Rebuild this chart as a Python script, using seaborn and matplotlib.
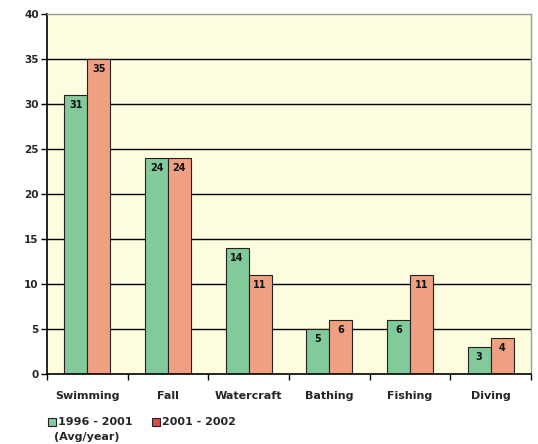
import seaborn as sns
import pandas as pd
import matplotlib.pyplot as plt
from matplotlib.patches import Rectangle

categories = ["Swimming", "Fall", "Watercraft", "Bathing", "Fishing", "Diving"]
series_names = ["1996 - 2001", "2001 - 2002"]
avg_1996_2001 = [31, 24, 14, 5, 6, 3]
val_2001_2002 = [35, 24, 11, 6, 11, 4]
y_ticks = [0, 5, 10, 15, 20, 25, 30, 35, 40]

bar_colors = ["#82ca9c", "#f0a082"]
legend_colors = ["#82ca9c", "#e04848"]

df = pd.DataFrame({
    "category": categories * 2,
    "series": [series_names[0]] * 6 + [series_names[1]] * 6,
    "value": avg_1996_2001 + val_2001_2002,
})

sns.set_style("white")
plt.rcParams['font.family'] = ['DejaVu Sans']

W, H = 538, 444
fig = plt.figure(figsize=(5.38, 4.44), dpi=100)
ax = fig.add_axes([47 / W, 1 - 374 / H, 484 / W, 360 / H])
ax.set_facecolor("#fefcdf")

sns.barplot(data=df, x="category", y="value", hue="series", order=categories,
            hue_order=series_names, palette=bar_colors, width=0.57,
            edgecolor="#222222", linewidth=0.8, saturation=1, legend=False, ax=ax)

# 柱顶数值
for cont in ax.containers:
    for bar in cont:
        h = bar.get_height()
        ax.text(bar.get_x() + bar.get_width() / 2, h - 0.55, f"{int(h)}",
                ha="center", va="top", fontsize=7, fontweight="bold", color="#111111")

ax.set_ylim(0, 40)
ax.set_xlim(-0.5, 5.5)
ax.set_yticks(y_ticks)
for y in y_ticks[1:-1]:
    ax.axhline(y, color="black", linewidth=1, zorder=0)
ax.set_axisbelow(True)

ax.set_xticks([i + 0.5 for i in range(-1, 6)], minor=False)
ax.set_xticklabels([])
ax.set_xticks(range(6), minor=True)
ax.set_xticklabels(categories, minor=True, fontsize=8, fontweight="bold")
ax.tick_params(axis="x", which="major", bottom=True, direction="out", length=4, width=1, color="black")
ax.tick_params(axis="x", which="minor", bottom=True, length=0, pad=12)
ax.tick_params(axis="y", left=True, direction="out", length=4, width=1, color="black",
               labelsize=7.5, pad=2)
for t in ax.get_yticklabels():
    t.set_fontweight("bold")
ax.set_xlabel("")
ax.set_ylabel("")

for side in ["left", "bottom"]:
    ax.spines[side].set_color("black")
    ax.spines[side].set_linewidth(1.2)
for side in ["top", "right"]:
    ax.spines[side].set_color("#999999")
    ax.spines[side].set_linewidth(1)

# 图例（手动放置）
legend_x = [48, 152]
for c, lx, name in zip(legend_colors, legend_x, series_names):
    fig.patches.append(Rectangle((lx / W, 1 - 426 / H), 8 / W, 8 / H, transform=fig.transFigure,
                                 facecolor=c, edgecolor="#222222", linewidth=0.8))
    fig.text((lx + 10) / W, 1 - 422 / H, name, fontsize=8, fontweight="bold",
             va="center", ha="left")
fig.text(54 / W, 1 - 437 / H, "(Avg/year)", fontsize=8, fontweight="bold",
         va="center", ha="left")

fig.savefig("out.png", dpi=100)
